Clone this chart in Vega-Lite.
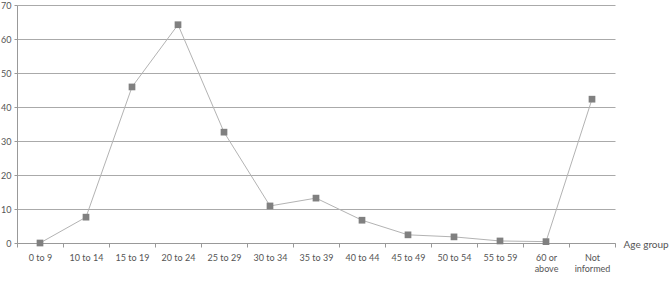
{
  "$schema": "https://vega.github.io/schema/vega-lite/v6.json",
  "width": 598,
  "height": 238,
  "autosize": {"type": "none"},
  "padding": {"left": 17, "top": 5, "right": 55, "bottom": 41},
  "background": "white",
  "config": {
    "view": {"stroke": null},
    "font": "Lato",
    "axis": {"labelFont": "Lato", "titleFont": "Lato", "labelColor": "#555", "titleColor": "#555"}
  },
  "data": {
    "values": [
      {"age": "0 to 9", "value": 0},
      {"age": "10 to 14", "value": 7.6},
      {"age": "15 to 19", "value": 45.9},
      {"age": "20 to 24", "value": 64.2},
      {"age": "25 to 29", "value": 32.6},
      {"age": "30 to 34", "value": 10.9},
      {"age": "35 to 39", "value": 13.2},
      {"age": "40 to 44", "value": 6.7},
      {"age": "45 to 49", "value": 2.4},
      {"age": "50 to 54", "value": 1.8},
      {"age": "55 to 59", "value": 0.6},
      {"age": "60 or above", "value": 0.4},
      {"age": "Not informed", "value": 42.3}
    ]
  },
  "encoding": {
    "x": {
      "field": "age",
      "type": "nominal",
      "sort": null,
      "scale": {"type": "band", "paddingInner": 0, "paddingOuter": 0},
      "axis": {
        "title": "Age group",
        "titleAnchor": "end",
        "titleAngle": 0,
        "titleX": 606,
        "titleY": 1,
        "titleAlign": "left",
        "titleBaseline": "middle",
        "titleFontSize": 10,
        "titleFontWeight": "normal",
        "labelAngle": 0,
        "labelFontSize": 9,
        "labelPadding": 6,
        "labelLineHeight": 11,
        "labelExpr": "datum.label == '60 or above' ? ['60 or','above'] : datum.label == 'Not informed' ? ['Not','informed'] : datum.label",
        "tickBand": "extent",
        "tickSize": 4,
        "tickColor": "#999",
        "domainColor": "#999",
        "grid": false
      }
    },
    "y": {
      "field": "value",
      "type": "quantitative",
      "scale": {"domain": [0, 70], "nice": false},
      "axis": {
        "title": null,
        "values": [0, 10, 20, 30, 40, 50, 60, 70],
        "labelFontSize": 9,
        "labelPadding": 3,
        "tickSize": 3,
        "tickColor": "#999",
        "domainColor": "#999",
        "gridColor": "#aaa",
        "gridWidth": 1
      }
    }
  },
  "layer": [
    {"mark": {"type": "line", "color": "#b3b3b3", "strokeWidth": 1}},
    {"mark": {"type": "point", "shape": "square", "filled": true, "color": "#808080", "size": 45, "opacity": 1}}
  ]
}
